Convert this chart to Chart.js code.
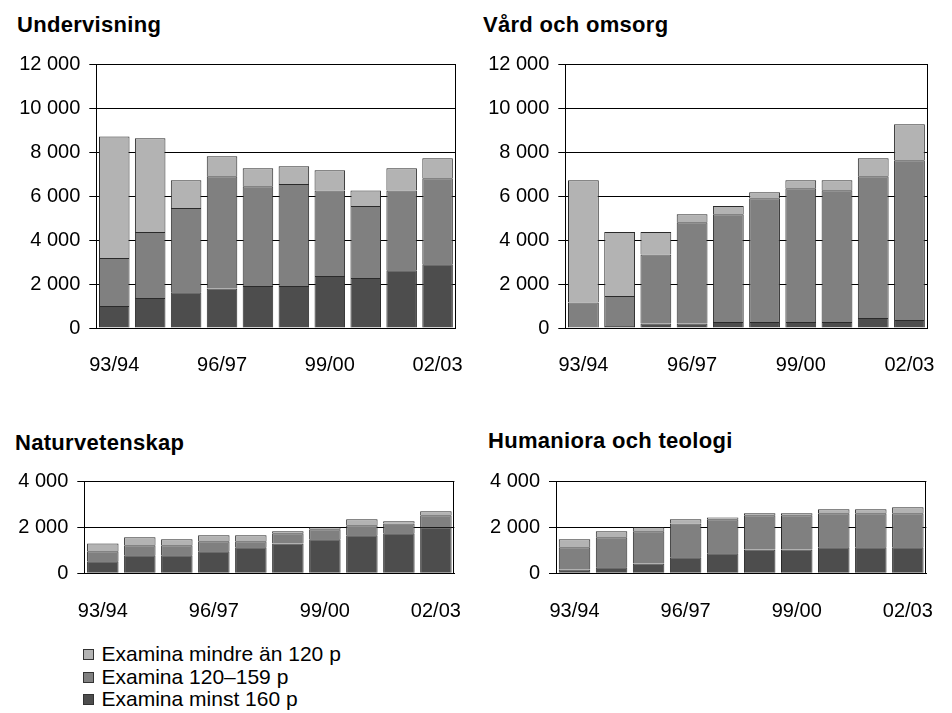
<!DOCTYPE html>
<html>
<head>
<meta charset="utf-8">
<script src="https://cdn.jsdelivr.net/npm/chart.js@4"></script>
<style>
  body { margin: 0; width: 952px; height: 713px; background: #fff; position: relative; overflow: hidden;
         font-family: "Liberation Sans", Arial, sans-serif; color: #000; }
  canvas { position: absolute; }
  .rubrik { position: absolute; font-weight: bold; font-size: 22px; line-height: 22px; white-space: nowrap; letter-spacing: 0.3px; }
  #forklaring { position: absolute; left: 83px; top: 643px; font-size: 21px; line-height: 22.5px; }
  #forklaring div { position: relative; padding-left: 18.5px; white-space: nowrap; }
  #forklaring span { position: absolute; left: 0; top: 6px; width: 9px; height: 9px; border: 1px solid #333; }
</style>
</head>
<body>
<div class="rubrik" style="left:17px;top:14px">Undervisning</div>
<div class="rubrik" style="left:483px;top:14px">Vård och omsorg</div>
<div class="rubrik" style="left:15px;top:432px">Naturvetenskap</div>
<div class="rubrik" style="left:488px;top:430px">Humaniora och teologi</div>

<canvas id="undervisning" width="480" height="340" style="left:0;top:40px"></canvas>
<canvas id="vard" width="476" height="340" style="left:476px;top:40px"></canvas>
<canvas id="natur" width="480" height="165" style="left:0;top:460px"></canvas>
<canvas id="humaniora" width="476" height="165" style="left:476px;top:460px"></canvas>

<div id="forklaring">
  <div><span style="background:#b3b3b3"></span>Examina mindre än 120 p</div>
  <div><span style="background:#808080"></span>Examina 120–159 p</div>
  <div><span style="background:#4d4d4d"></span>Examina minst 160 p</div>
</div>

<script>
const ar = ['93/94','94/95','95/96','96/97','97/98','98/99','99/00','00/01','01/02','02/03'];
const serier = ['Examina minst 160 p', 'Examina 120–159 p', 'Examina mindre än 120 p'];
const farger = ['#4d4d4d', '#808080', '#b3b3b3'];

const underMinst  = [1000, 1360, 1620, 1800, 1910, 1910, 2360, 2270, 2630, 2900];
const underMellan = [2180, 3000, 3830, 5100, 4530, 4630, 3890, 3270, 3620, 3910];
const underMindre = [5530, 4260, 1270,  910,  820,  810,  920,  710, 1010,  910];

const vardMinst  = [   0,   90,  200,  200,  270,  270,  270,  270,  450,  360];
const vardMellan = [1160, 1360, 3140, 4610, 4900, 5630, 6080, 5990, 6450, 7260];
const vardMindre = [5560, 2910, 1020,  360,  370,  270,  370,  460,  820, 1640];

const naturMinst  = [520, 780, 780, 960, 1130, 1300, 1480, 1650, 1740, 2000];
const naturMellan = [440, 440, 440, 430,  260,  440,  430,  440,  430,  520];
const naturMindre = [340, 350, 260, 260,  260,   90,   90,  260,   90,  180];

const humMinst  = [170,  260,  430,  700,  870, 1040, 1040, 1130, 1130, 1130];
const humMellan = [960, 1310, 1400, 1470, 1480, 1480, 1480, 1480, 1480, 1480];
const humMindre = [350,  260,  170,  180,   80,   90,   90,  170,  170,  260];

Chart.defaults.font.family = '"Liberation Sans", Arial, sans-serif';
Chart.defaults.font.size = 20;
Chart.defaults.color = '#000';

// hogerkant runt diagramytan
const ram = {
  id: 'ram',
  afterDraw(chart) {
    const a = chart.chartArea, ctx = chart.ctx;
    ctx.save();
    ctx.strokeStyle = '#000';
    ctx.lineWidth = 1;
    ctx.beginPath();
    ctx.moveTo(Math.round(a.right) - 0.5, a.top);
    ctx.lineTo(Math.round(a.right) - 0.5, a.bottom);
    ctx.stroke();
    ctx.restore();
  }
};

function tusental(v) {
  return String(v).replace(/\B(?=(\d{3})+(?!\d))/g, ' ');
}

function skapaDiagram(id, data, max, yBredd, xHojd, pad, xPad) {
  new Chart(document.getElementById(id), {
    type: 'bar',
    data: {
      labels: ar,
      datasets: data.map((d, i) => ({
        label: serier[i], data: d, backgroundColor: farger[i],
        borderColor: '#2a2a2a', borderWidth: 1,
        barPercentage: 0.85, categoryPercentage: 1
      }))
    },
    options: {
      responsive: false,
      animation: false,
      layout: { padding: pad },
      plugins: { legend: { display: false }, tooltip: { enabled: false } },
      scales: {
        x: {
          stacked: true,
          grid: { display: false },
          border: { color: '#000', width: 1 },
          ticks: { autoSkip: false, maxRotation: 0, padding: xPad,
                   callback: (v, i) => i % 3 === 0 ? ar[i] : '' },
          afterFit: s => { s.height = xHojd; }
        },
        y: {
          stacked: true, min: 0, max: max,
          grid: { color: '#000', lineWidth: 1, tickLength: 7, tickColor: '#000' },
          border: { color: '#000', width: 1 },
          ticks: { stepSize: 2000, padding: 9, callback: v => tusental(v) },
          afterFit: s => { s.width = yBredd; }
        }
      }
    },
    plugins: [ram]
  });
}

skapaDiagram('undervisning', [underMinst, underMellan, underMindre], 12000, 96.3, 52, {top: 24, right: 8, bottom: 0, left: 0}, 17);
skapaDiagram('vard', [vardMinst, vardMellan, vardMindre], 12000, 89.3, 52, {top: 24, right: 10.3, bottom: 0, left: 0}, 17);
skapaDiagram('natur', [naturMinst, naturMellan, naturMindre], 4000, 84.3, 51.7, {top: 21.3, right: 11.7, bottom: 0, left: 0}, 18.5);
skapaDiagram('humaniora', [humMinst, humMellan, humMindre], 4000, 80, 51.7, {top: 21.3, right: 12.7, bottom: 0, left: 0}, 18.5);
</script>
</body>
</html>
